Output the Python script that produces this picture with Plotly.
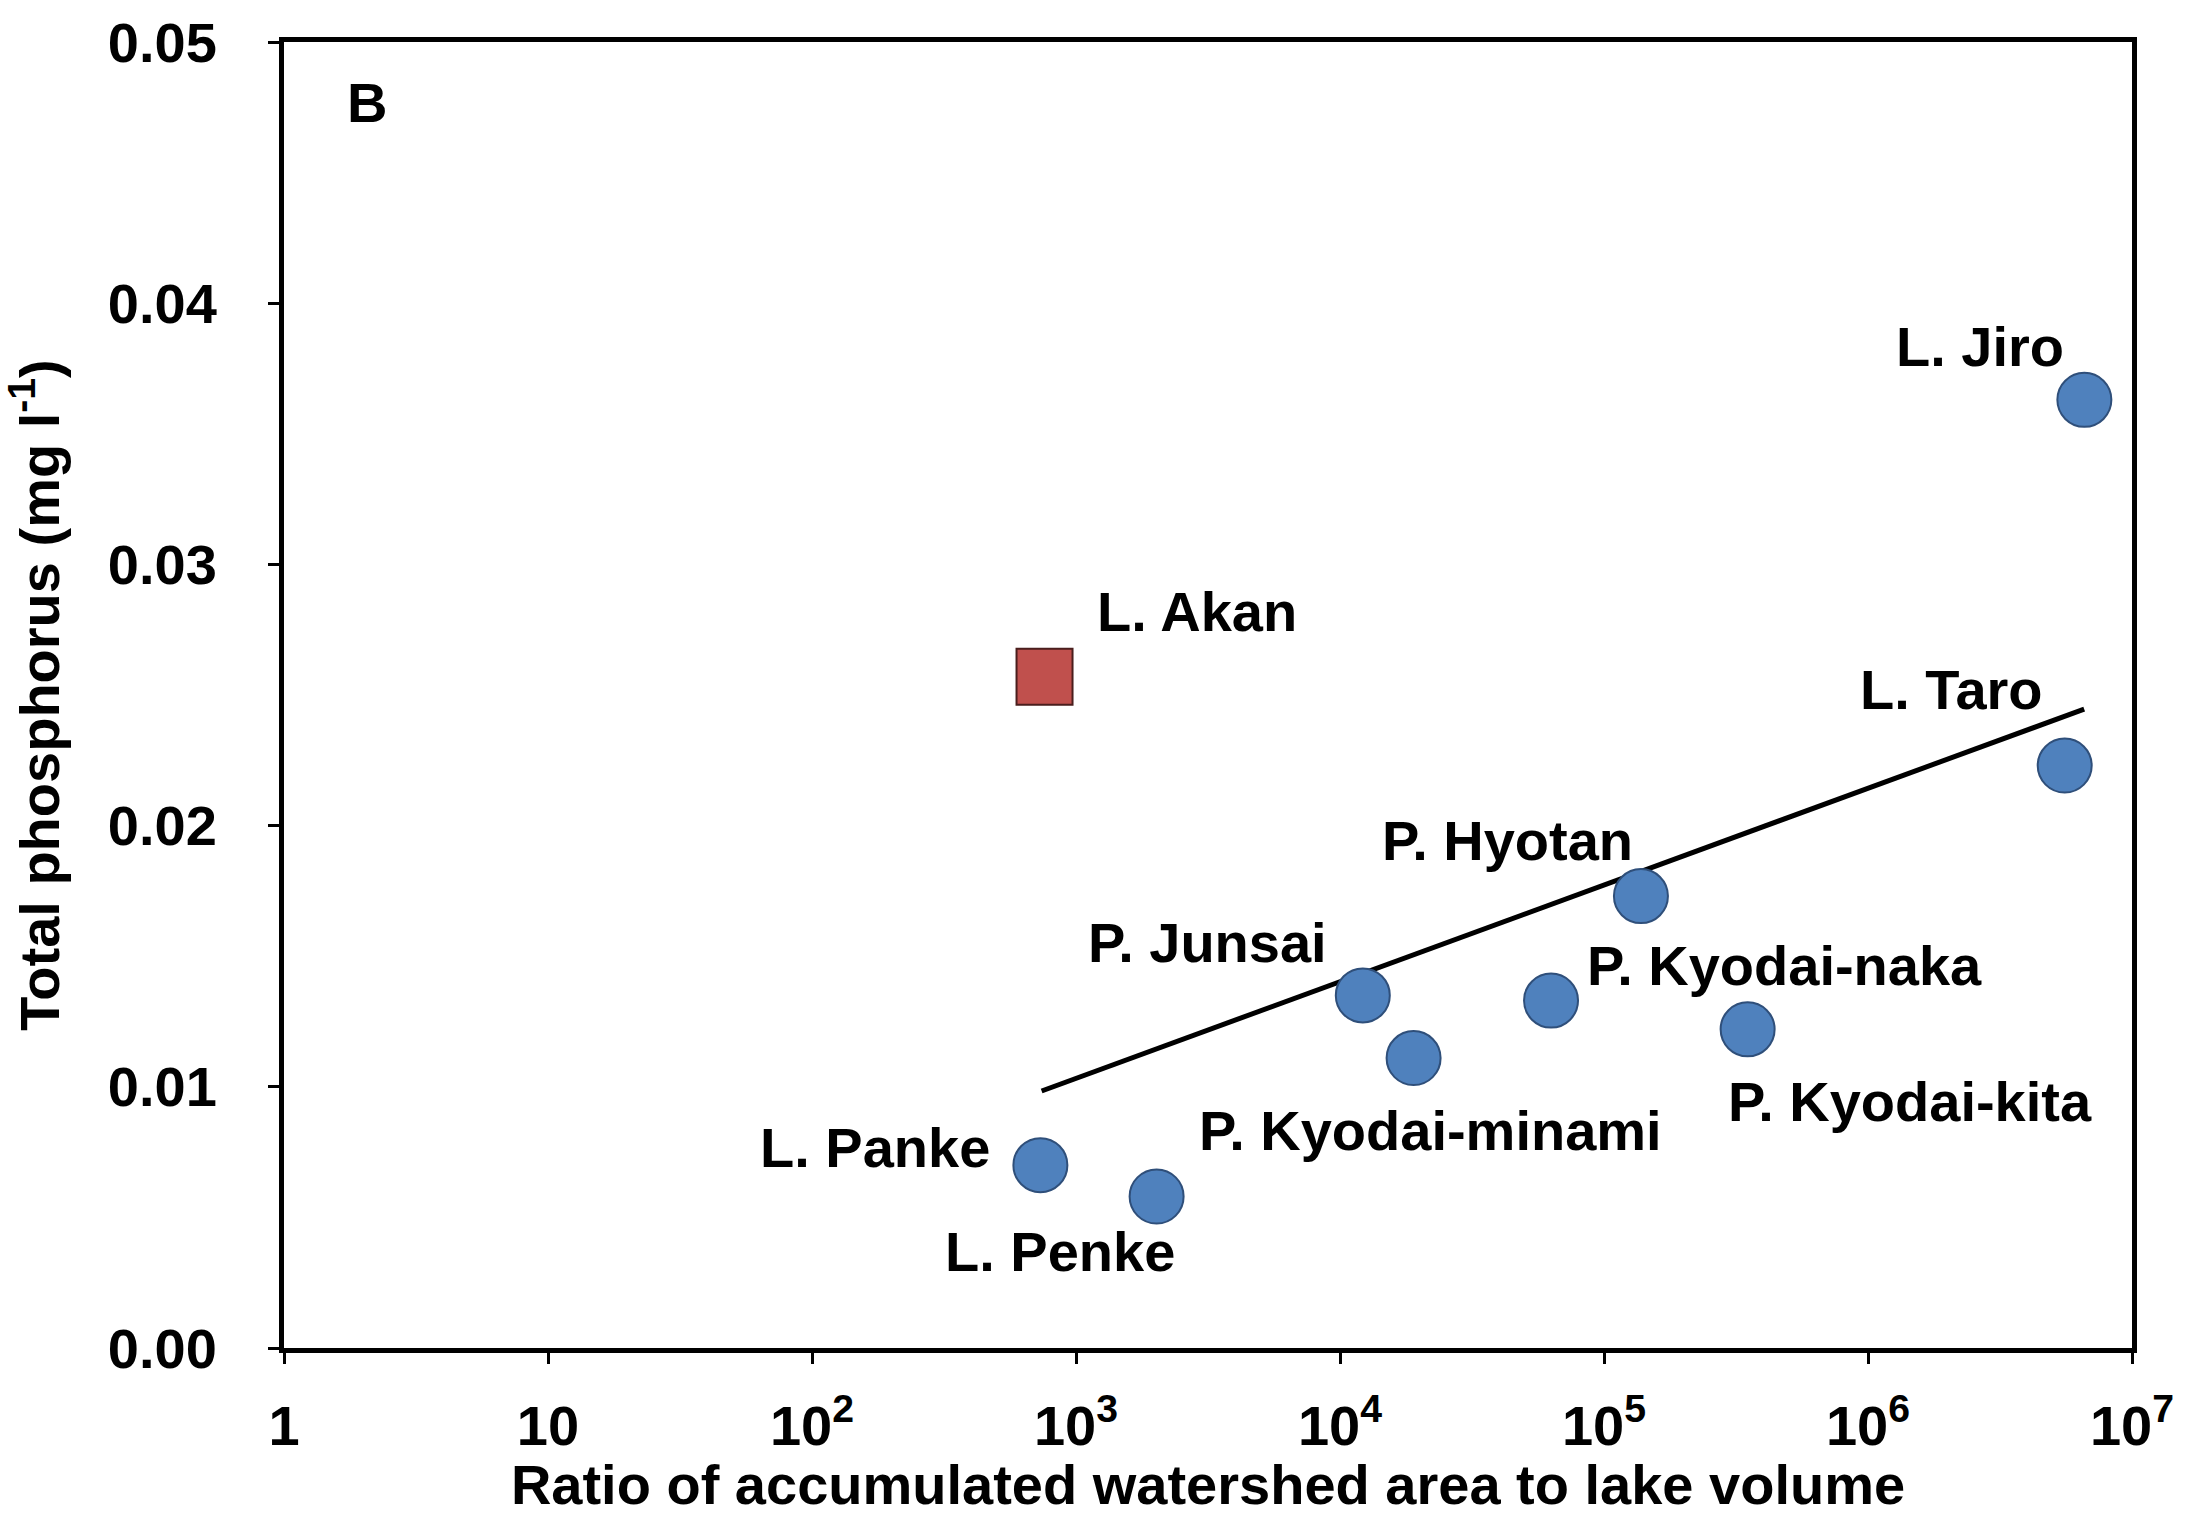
import math
import plotly.graph_objects as go

# ---- data ----
lake_names = ["L. Jiro", "L. Taro", "P. Hyotan", "P. Junsai", "P. Kyodai-minami",
              "P. Kyodai-naka", "P. Kyodai-kita", "L. Panke", "L. Penke"]
ratio = [6.6e6, 5.56e6, 1.38e5, 1.22e4, 1.9e4, 6.3e4, 3.5e5, 733, 2020]
tp = [0.0363, 0.0223, 0.0173, 0.0135, 0.0111, 0.0133, 0.0122, 0.0070, 0.0058]

akan_name = ["L. Akan"]
akan_ratio = [760]
akan_tp = [0.0257]

trend_x = [741, 6.59e6]
trend_y = [0.00984, 0.02446]

xtick_vals = [1, 10, 100, 1e3, 1e4, 1e5, 1e6, 1e7]
xtick_text = ["1", "10", "10<sup>2</sup>", "10<sup>3</sup>", "10<sup>4</sup>",
              "10<sup>5</sup>", "10<sup>6</sup>", "10<sup>7</sup>"]
ytick_vals = [0, 0.01, 0.02, 0.03, 0.04, 0.05]

# label offsets (pixels) relative to each point: (xshift, yshift, xanchor)
label_style = {
    "L. Jiro": (-18, 53, "right"),
    "L. Taro": (-20, 76, "right"),
    "P. Hyotan": (-133, 56, "center"),
    "P. Junsai": (-34, 53, "right"),
    "P. Kyodai-minami": (17, -72, "center"),
    "P. Kyodai-naka": (34, 35, "left"),
    "P. Kyodai-kita": (-22, -72, "left"),
    "L. Panke": (-48, 18, "right"),
    "L. Penke": (-97, -55, "center"),
    "L. Akan": (50, 65, "left"),
}

FONT = "Liberation Sans, Arial, sans-serif"
FS = 56

fig = go.Figure()
fig.add_trace(go.Scatter(x=trend_x, y=trend_y, mode="lines",
                         line=dict(color="black", width=5), showlegend=False,
                         hoverinfo="skip"))
fig.add_trace(go.Scatter(x=ratio, y=tp, mode="markers", text=lake_names,
                         marker=dict(symbol="circle", size=54, color="#4F81BD",
                                     line=dict(color="#2F4F7A", width=2)),
                         showlegend=False))
fig.add_trace(go.Scatter(x=akan_ratio, y=akan_tp, mode="markers", text=akan_name,
                         marker=dict(symbol="square", size=56, color="#C0504D",
                                     line=dict(color="#4A1E1D", width=2)),
                         showlegend=False))

for nm, xv, yv in list(zip(lake_names, ratio, tp)) + list(zip(akan_name, akan_ratio, akan_tp)):
    xs, ys, xa = label_style[nm]
    fig.add_annotation(x=math.log10(xv), y=yv, xref="x", yref="y", text="<b>%s</b>" % nm,
                       showarrow=False, xshift=xs, yshift=ys, xanchor=xa,
                       yanchor="middle", font=dict(family=FONT, size=FS, color="black"))

fig.add_annotation(x=0.033, y=0.954, xref="paper", yref="paper", text="<b>B</b>",
                   showarrow=False, xanchor="left", yanchor="middle",
                   font=dict(family=FONT, size=FS, color="black"))

fig.update_layout(
    width=2201, height=1516,
    margin=dict(l=284, r=69, t=42, b=168),
    paper_bgcolor="white", plot_bgcolor="white",
    font=dict(family=FONT, size=FS, color="black"),
    xaxis=dict(type="log", range=[0, 7], tickvals=xtick_vals, ticktext=["<b>%s</b>" % t for t in xtick_text],
               showgrid=False, zeroline=False, showline=True, linecolor="black", linewidth=5,
               mirror=True, ticks="outside", ticklen=11, tickwidth=3, tickcolor="black",
               ticklabelstandoff=14, automargin=False,
               title=dict(text="<b>Ratio of accumulated watershed area to lake volume</b>",
                          font=dict(family=FONT, size=FS), standoff=18)),
    yaxis=dict(range=[0, 0.05], tickvals=ytick_vals, tickformat=".2f",
               showgrid=False, zeroline=False, showline=True, linecolor="black", linewidth=5,
               mirror=True, ticks="outside", ticklen=11, tickwidth=3, tickcolor="black",
               ticklabelstandoff=40, automargin=False,
               tickfont=dict(family=FONT, size=FS, weight="bold"),
               title=dict(text="<b>Total phosphorus (mg l<sup>-1</sup>)</b>",
                          font=dict(family=FONT, size=FS), standoff=34)),
)

fig.write_html("out.html")
